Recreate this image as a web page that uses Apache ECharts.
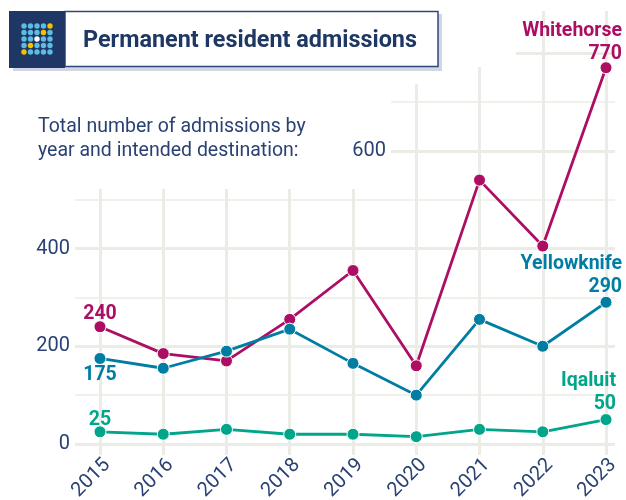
<!DOCTYPE html>
<html>
<head>
<meta charset="utf-8">
<style>
    html, body { margin: 0; padding: 0; background: #fff; }
    #chart { width: 626px; height: 500px; }
</style>
<script src="https://cdn.jsdelivr.net/npm/echarts@6/dist/echarts.min.js"></script>
</head>
<body>
<div id="chart"></div>
<script>
const years = [2015, 2016, 2017, 2018, 2019, 2020, 2021, 2022, 2023];
const whitehorse = [240, 185, 170, 255, 355, 160, 540, 405, 770];
const yellowknife = [175, 155, 190, 235, 165, 100, 255, 200, 290];
const iqaluit = [25, 20, 30, 20, 20, 15, 30, 25, 50];
const majorTicks = [0, 200, 400, 600, 800];
const minorTicks = [100, 300, 500, 700];
const leftLabels = [0, 200, 400];
const insideLabels = [600];

const NAVY = '#1e3765';
const TEXT = '#2a4273';
const GRID = '#ecece6';
const FONT = 'Roboto';

function pairs(values) {
    return values.map((v, i) => [years[i], v]);
}

// first and last point of each line carry a label
function makeSeries(name, values, color, firstPos, lastLabel) {
    const data = pairs(values).map((p) => ({value: p}));
    data[0].label = Object.assign({
        show: true,
        formatter: String(values[0])
    }, firstPos);
    data[data.length - 1].label = Object.assign({
        show: true,
        formatter: name + '\n' + values[values.length - 1]
    }, lastLabel);
    return {
        name: name,
        type: 'line',
        z: 5,
        data: data,
        symbol: 'circle',
        symbolSize: 12,
        showSymbol: true,
        lineStyle: {color: color, width: 2.8},
        itemStyle: {color: color, borderColor: '#fff', borderWidth: 1},
        label: {
            color: color,
            fontFamily: FONT,
            fontWeight: 'bold',
            fontSize: 19.5,
            lineHeight: 23
        }
    };
}

// little dot square in the title block
function logoDots() {
    const dots = [];
    const yellow = ['0,4', '1,3', '3,1', '4,0'];
    for (let r = 0; r < 5; r++) {
        for (let c = 0; c < 5; c++) {
            let fill = '#5cbce2';
            if (yellow.indexOf(r + ',' + c) >= 0) fill = '#f4c200';
            if (r === 2 && c === 2) fill = '#fff';
            dots.push({
                type: 'circle',
                z: 12,
                shape: {cx: 24 + c * 6.5, cy: 26 + r * 6.5, r: 2.7},
                style: {fill: fill}
            });
        }
    }
    return dots;
}

function mask(x, y, width, height) {
    return {
        type: 'rect',
        z: 1,
        shape: {x: x, y: y, width: width, height: height},
        style: {fill: '#fff'}
    };
}

const yBase = {
    type: 'value',
    min: -22.5,
    max: 886,
    axisLine: {show: false},
    axisTick: {show: false}
};

const chart = echarts.init(document.getElementById('chart'));
chart.setOption({
    animation: false,
    backgroundColor: '#fff',
    textStyle: {fontFamily: FONT},
    grid: {left: 75, right: 11, top: 11, bottom: 45, outerBoundsMode: 'none'},
    xAxis: {
        type: 'value',
        min: 2014.605,
        max: 2023.142,
        axisLine: {show: false},
        axisTick: {show: false, customValues: years},
        splitLine: {show: true, lineStyle: {color: GRID, width: 3}},
        axisLabel: {
            customValues: years,
            formatter: (v) => String(v),
            rotate: 45,
            margin: 0,
            verticalAlign: 'top',
            color: TEXT,
            fontFamily: FONT,
            fontSize: 20
        }
    },
    yAxis: [
        Object.assign({}, yBase, {
            axisTick: {show: false, customValues: majorTicks},
            splitLine: {show: true, lineStyle: {color: GRID, width: 3}},
            axisLabel: {customValues: leftLabels, margin: 5, padding: [2, 0, 0, 0], color: TEXT, fontFamily: FONT, fontSize: 20}
        }),
        Object.assign({}, yBase, {
            position: 'left',
            axisTick: {show: false, customValues: minorTicks},
            splitLine: {show: true, lineStyle: {color: GRID, width: 1.5}},
            axisLabel: {show: false}
        }),
        Object.assign({}, yBase, {
            position: 'left',
            offset: -316,
            z: 3,
            splitLine: {show: false},
            axisLabel: {customValues: insideLabels, margin: 5, padding: [3, 0, 0, 0], color: TEXT, fontFamily: FONT, fontSize: 20}
        })
    ],
    series: [
        makeSeries('Whitehorse', whitehorse, '#ac0e64',
            {position: 'top', offset: [0, 12], distance: 7},
            {position: 'top', align: 'right', offset: [16, 9], distance: 5}),
        makeSeries('Yellowknife', yellowknife, '#007da3',
            {position: 'bottom', offset: [0, -6], distance: 5},
            {position: 'top', align: 'right', offset: [16, 8], distance: 5}),
        makeSeries('Iqaluit', iqaluit, '#00a58a',
            {position: 'top', offset: [0, 13], distance: 7},
            {position: 'top', align: 'right', offset: [10, 8], distance: 5})
    ],
    graphic: [
        // gridlines stop short of the text block in the upper left
        mask(0, 0, 391, 189),
        mask(391, 0, 125, 67),
        mask(391, 67, 59, 17),
        {type: 'rect', z: 10, shape: {x: 13, y: 14, width: 429, height: 57}, style: {fill: '#d2d6e4'}},
        {type: 'rect', z: 11, shape: {x: 65, y: 11.5, width: 373, height: 55}, style: {fill: '#fff', stroke: '#2f4a7a', lineWidth: 1.5}},
        {type: 'rect', z: 11, shape: {x: 9, y: 11, width: 56, height: 57}, style: {fill: NAVY}},
        {type: 'text', z: 12, x: 83, y: 41, style: {text: 'Permanent resident admissions', fill: NAVY, font: 'bold 23.4px Roboto', textVerticalAlign: 'middle'}},
        {type: 'text', z: 12, x: 38, y: 127, style: {text: 'Total number of admissions by', fill: TEXT, font: '19.5px Roboto', textVerticalAlign: 'middle'}},
        {type: 'text', z: 12, x: 38, y: 151, style: {text: 'year and intended destination:', fill: TEXT, font: '19.5px Roboto', textVerticalAlign: 'middle'}}
    ].concat(logoDots())
});
</script>
</body>
</html>
